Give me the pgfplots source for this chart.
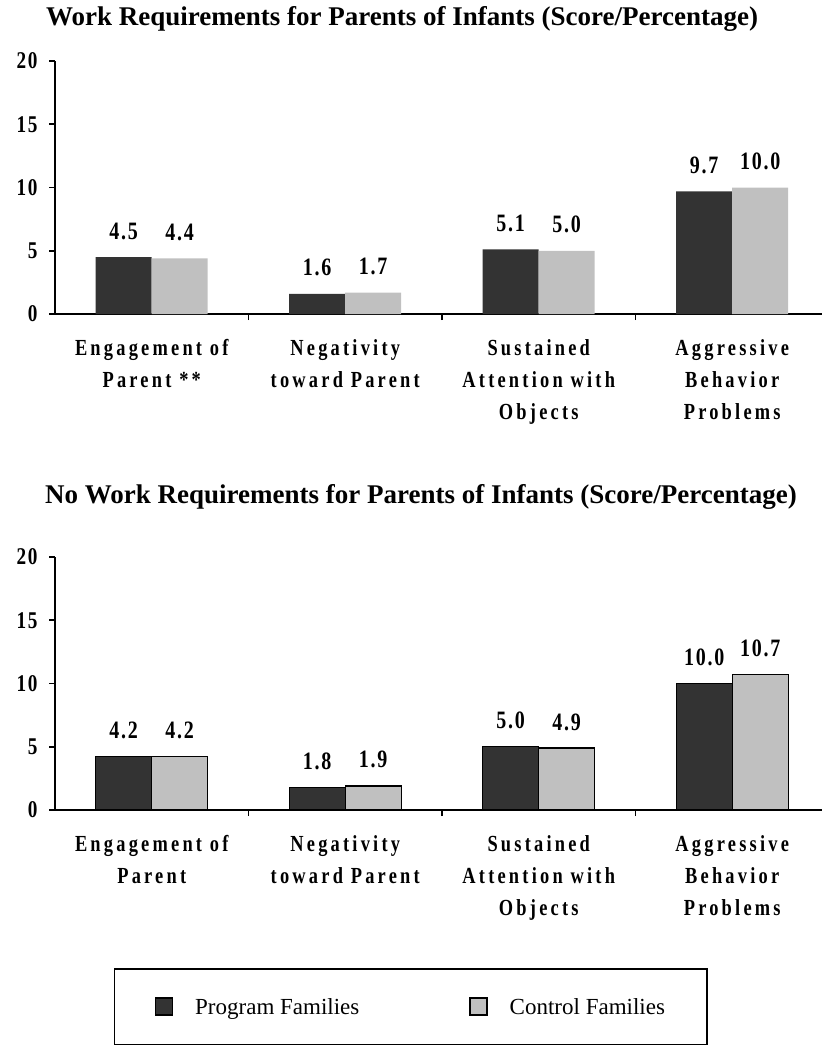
\documentclass[border=0pt]{standalone}
\usepackage{fontspec}
\setmainfont{Liberation Serif}
\newfontfamily\narrow[FakeStretch=0.8,LetterSpace=14]{Liberation Serif}
\newfontfamily\numfont[FakeStretch=0.8,LetterSpace=7]{Liberation Serif}
\usepackage{pgfplots}
\pgfplotsset{compat=1.18}
\definecolor{prog}{HTML}{333333}
\definecolor{ctrl}{HTML}{C0C0C0}

\pgfplotsset{
  infant/.style={
    scale only axis, width=767bp, height=253bp,
    xmin=-0.5, xmax=3.464, ymin=0, ymax=20,
    axis lines=left, axis line style={-, line width=1.6bp},
    ytick={0,5,10,15,20},
    xtick={0.5,1.5,2.5}, xticklabels={},
    tick align=outside, major tick length=6bp,
    tick style={line width=1.6bp, black},
    extra x ticks={0,1,2,3},
    extra x tick style={major tick length=0pt},
    x tick label style={font=\narrow\bfseries\fontsize{23bp}{32bp}\selectfont, align=center, yshift=-22bp},
    y tick label style={font=\numfont\bfseries\fontsize{24bp}{26bp}\selectfont, xshift=-8bp},
    /pgf/number format/assume math mode=true,
    ybar=0pt, bar width=56bp, clip=false,
    nodes near coords={\pgfmathprintnumber[fixed,fixed zerofill,precision=1]{\pgfplotspointmeta}},
    every node near coord/.append style={font=\numfont\bfseries\fontsize{25bp}{28bp}\selectfont, anchor=base, yshift=18bp},
  }
}

\begin{document}
\begin{tikzpicture}
\path[use as bounding box] (0,0) rectangle (822bp,-1047bp);

\node[anchor=base west, font=\bfseries\fontsize{27bp}{30bp}\selectfont, inner sep=0pt]
  at (46bp,-25bp) {Work Requirements for Parents of Infants (Score/Percentage)};

\begin{axis}[infant, at={(55bp,-314bp)}, anchor=south west,
  extra x tick labels={Engagement of\\Parent **, Negativity\\toward Parent, Sustained\\Attention with\\Objects, Aggressive\\Behavior\\Problems}]
\addplot[fill=prog, draw=none] coordinates {(0,4.5) (1,1.6) (2,5.1) (3,9.7)};
\addplot[fill=ctrl, draw=none] coordinates {(0,4.4) (1,1.7) (2,5.0) (3,10.0)};
\end{axis}

\node[anchor=base west, font=\bfseries\fontsize{27bp}{30bp}\selectfont, inner sep=0pt]
  at (45bp,-503bp) {No Work Requirements for Parents of Infants (Score/Percentage)};

\begin{axis}[infant, at={(55bp,-810bp)}, anchor=south west,
  extra x tick labels={Engagement of\\Parent, Negativity\\toward Parent, Sustained\\Attention with\\Objects, Aggressive\\Behavior\\Problems},
  legend style={at={(0.464,-0.778)}, anchor=center, draw=black, line width=1.4bp,
    legend columns=2, font=\fontsize{23bp}{26bp}\selectfont,
    inner xsep=40bp, inner ysep=27bp,
    /tikz/every even column/.append style={column sep=108bp},
    /tikz/every odd column/.append style={column sep=20bp}},
  legend image code/.code={\draw[#1, draw=black, line width=1.4bp] (0bp,-8bp) rectangle (17bp,9bp);}]
\addplot[fill=prog, draw=black, line width=1.2bp] coordinates {(0,4.2) (1,1.8) (2,5.0) (3,10.0)};
\addlegendentry{Program Families}
\addplot[fill=ctrl, draw=black, line width=1.2bp] coordinates {(0,4.2) (1,1.9) (2,4.9) (3,10.7)};
\addlegendentry{Control Families}
\end{axis}
\end{tikzpicture}
\end{document}
